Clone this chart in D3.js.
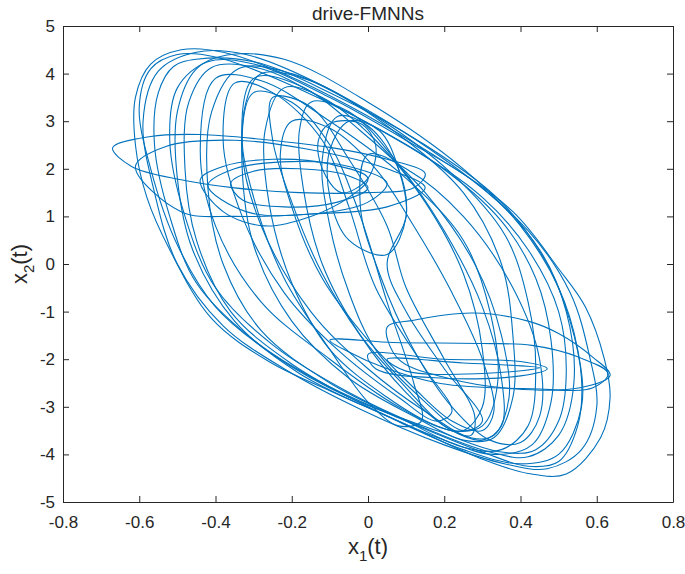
<!DOCTYPE html>
<html>
<head>
<meta charset="utf-8">
<script src="https://cdn.jsdelivr.net/npm/d3@7"></script>
<style>
body { margin: 0; background: #fff; }
text { font-family: "Liberation Sans", Arial, Helvetica, sans-serif; }
</style>
</head>
<body>
<script>
// axis ticks
const xTicks = [-0.8, -0.6, -0.4, -0.2, 0, 0.2, 0.4, 0.6, 0.8];
const yTicks = [-5, -4, -3, -2, -1, 0, 1, 2, 3, 4, 5];

// trajectory loops (x1, x2)
// big diagonal loops
const loopA1 = [[-0.49,4.5],[-0.38,4.45],[-0.18,3.85],[0.17,2.3],[0.38,1.1],[0.5,-0.1],[0.57,-0.9],[0.62,-2.0],[0.635,-2.8],[0.61,-3.65],[0.52,-4.41],[0.42,-4.4],[0.3,-4.1],[0.08,-3.3],[-0.09,-2.7],[-0.26,-2.05],[-0.41,-1.15],[-0.52,0.3],[-0.58,1.4],[-0.61,2.5],[-0.61,3.5],[-0.57,4.2]];
const loopA2 = [[-0.45,4.3],[-0.3,4.25],[-0.1,3.6],[0.15,2.5],[0.35,1.3],[0.47,0.0],[0.53,-1.2],[0.56,-2.4],[0.55,-3.4],[0.5,-4.15],[0.42,-4.25],[0.3,-3.95],[0.1,-3.3],[-0.12,-2.5],[-0.3,-1.6],[-0.45,-0.4],[-0.52,1.0],[-0.56,2.5],[-0.55,3.6],[-0.51,4.15]];
const loopA3 = [[-0.37,4.39],[-0.22,4.3],[0.0,3.4],[0.25,2.0],[0.4,0.8],[0.5,-0.5],[0.55,-1.8],[0.56,-3.0],[0.5,-4.0],[0.4,-4.2],[0.25,-3.9],[0.05,-3.2],[-0.18,-2.3],[-0.35,-1.2],[-0.46,0.3],[-0.5,1.8],[-0.5,3.2],[-0.45,4.1]];
const loopA4 = [[-0.41,4.13],[-0.28,4.1],[-0.08,3.3],[0.18,2.1],[0.35,0.9],[0.44,-0.3],[0.48,-1.6],[0.48,-2.9],[0.43,-3.8],[0.33,-4.0],[0.2,-3.7],[0.0,-3.0],[-0.2,-2.1],[-0.36,-1.0],[-0.45,0.5],[-0.48,2.0],[-0.47,3.4]];
const loopA5 = [[-0.34,4.1],[-0.2,4.0],[0.0,3.2],[0.22,1.9],[0.36,0.6],[0.42,-0.8],[0.44,-2.2],[0.42,-3.4],[0.35,-3.9],[0.25,-3.85],[0.1,-3.3],[-0.1,-2.5],[-0.28,-1.4],[-0.38,0.0],[-0.42,1.6],[-0.41,3.2]];
const loopA6 = [[-0.28,4.0],[-0.15,3.85],[0.05,2.9],[0.25,1.5],[0.35,0.0],[0.38,-1.5],[0.38,-2.8],[0.33,-3.65],[0.25,-3.7],[0.12,-3.2],[-0.05,-2.4],[-0.2,-1.2],[-0.3,0.4],[-0.33,2.0],[-0.32,3.4]];
const loopA7 = [[-0.45,4.45],[-0.32,4.4],[-0.12,3.75],[0.2,2.2],[0.42,0.7],[0.53,-0.6],[0.58,-1.9],[0.6,-3.0],[0.56,-3.9],[0.47,-4.3],[0.36,-4.2],[0.2,-3.8],[-0.02,-3.05],[-0.22,-2.2],[-0.38,-1.3],[-0.5,0.0],[-0.56,1.5],[-0.59,3.0],[-0.55,4.05]];
const loopA8 = [[-0.5,4.4],[-0.4,4.35],[-0.2,3.75],[0.1,2.5],[0.3,1.4],[0.42,0.3],[0.5,-1.0],[0.52,-2.3],[0.5,-3.3],[0.44,-3.9],[0.35,-3.95],[0.18,-3.5],[-0.05,-2.8],[-0.25,-1.9],[-0.4,-0.9],[-0.5,0.4],[-0.57,2.0],[-0.6,3.3],[-0.57,4.1]];
const loopA9 = [[-0.42,4.25],[-0.3,4.2],[-0.1,3.5],[0.1,2.6],[0.3,1.6],[0.45,0.3],[0.52,-1.0],[0.54,-2.5],[0.5,-3.6],[0.42,-4.05],[0.32,-3.95],[0.15,-3.45],[-0.05,-2.7],[-0.25,-1.7],[-0.4,-0.5],[-0.48,1.0],[-0.52,2.6],[-0.5,3.7]];
// central tall loops
const loopB1 = [[-0.22,3.7],[-0.12,3.5],[0.02,2.6],[0.15,1.3],[0.25,-0.2],[0.3,-1.8],[0.3,-3.0],[0.25,-3.5],[0.18,-3.4],[0.05,-2.8],[-0.1,-1.8],[-0.2,-0.4],[-0.26,1.3],[-0.27,2.8]];
const loopB2 = [[-0.15,3.4],[-0.05,3.2],[0.07,2.2],[0.2,0.7],[0.3,-0.9],[0.35,-2.4],[0.35,-3.4],[0.3,-3.7],[0.22,-3.5],[0.1,-2.7],[-0.02,-1.5],[-0.12,0.0],[-0.17,1.6],[-0.18,2.8]];
const loopB3 = [[-0.05,3.0],[0.03,2.8],[0.08,2.0],[0.1,1.0],[0.05,0.2],[-0.05,0.5],[-0.1,1.4],[-0.1,2.4]];
const loopB4 = [[-0.3,3.6],[-0.2,3.4],[-0.1,2.5],[-0.02,1.0],[0.05,-0.8],[0.12,-2.5],[0.14,-3.3],[0.08,-3.4],[0.0,-2.9],[-0.1,-1.8],[-0.22,-0.3],[-0.3,1.4],[-0.33,2.7]];
const loopB5 = [[0.0,2.3],[0.1,2.0],[0.25,1.0],[0.38,-0.5],[0.45,-2.0],[0.45,-3.2],[0.4,-3.75],[0.32,-3.7],[0.22,-3.0],[0.12,-1.8],[0.03,-0.2],[-0.02,1.2]];
const loopB6 = [[-0.3,3.9],[-0.18,3.75],[-0.02,2.8],[0.15,1.5],[0.28,0.0],[0.35,-1.5],[0.37,-2.8],[0.33,-3.6],[0.27,-3.65],[0.15,-3.1],[0.0,-2.2],[-0.15,-1.0],[-0.28,0.8],[-0.33,2.4]];
const loopB7 = [[-0.25,3.5],[-0.15,3.3],[-0.05,2.2],[0.05,0.8],[0.1,-0.5],[0.2,-2.0],[0.28,-3.2],[0.27,-3.6],[0.2,-3.4],[0.1,-2.6],[-0.02,-1.5],[-0.12,-0.2],[-0.2,1.3],[-0.25,2.6]];
const loopB8 = [[-0.08,3.1],[0.0,2.9],[0.08,2.0],[0.1,1.0],[0.05,0.0],[0.1,-1.0],[0.2,-2.2],[0.3,-3.3],[0.25,-3.5],[0.15,-2.9],[0.02,-1.8],[-0.05,-0.6],[-0.1,0.8],[-0.12,2.2]];
const loopB9 = [[-0.35,3.8],[-0.25,3.6],[-0.12,2.6],[-0.05,1.2],[0.02,-0.5],[0.15,-2.2],[0.22,-3.1],[0.18,-3.3],[0.08,-2.8],[-0.08,-1.8],[-0.22,-0.6],[-0.33,1.0],[-0.38,2.6]];
const loopB10 = [[-0.2,3.0],[-0.1,2.85],[0.02,2.0],[0.12,0.8],[0.22,-0.6],[0.3,-2.0],[0.33,-3.1],[0.3,-3.5],[0.22,-3.3],[0.12,-2.6],[0.0,-1.6],[-0.12,-0.3],[-0.2,1.2],[-0.23,2.3]];
const loopB11 = [[-0.1,2.95],[-0.02,2.95],[0.02,2.5],[0.0,1.8],[-0.07,1.5],[-0.12,2.0],[-0.13,2.6]];
const loopB12 = [[-0.4,3.9],[-0.28,3.85],[-0.1,3.0],[0.1,1.8],[0.25,0.5],[0.32,-1.0],[0.34,-2.5],[0.3,-3.4],[0.22,-3.5],[0.08,-3.0],[-0.1,-2.0],[-0.28,-0.8],[-0.4,0.8],[-0.44,2.4]];
// flat loops, upper left
const loopC1 = [[-0.67,2.44],[-0.57,2.68],[-0.44,2.72],[-0.28,2.62],[-0.1,2.45],[0.05,2.2],[0.15,1.9],[0.12,1.6],[0.0,1.5],[-0.18,1.5],[-0.35,1.6],[-0.49,1.77],[-0.62,2.05]];
const loopC2 = [[-0.61,2.05],[-0.53,2.47],[-0.35,2.6],[-0.15,2.4],[0.05,2.0],[0.15,1.6],[0.05,1.2],[-0.15,1.05],[-0.35,1.0],[-0.49,1.1]];
const loopC3 = [[-0.44,1.77],[-0.38,2.05],[-0.25,2.2],[-0.1,2.1],[0.0,1.8],[-0.05,1.4],[-0.15,1.0],[-0.27,0.8],[-0.38,1.1]];
const loopC4 = [[-0.36,1.7],[-0.3,1.95],[-0.18,2.0],[-0.05,1.85],[0.0,1.6],[-0.08,1.3],[-0.22,1.2],[-0.33,1.35]];
const loopC5 = [[-0.42,1.65],[-0.35,2.0],[-0.2,2.15],[-0.05,2.05],[0.05,1.7],[0.0,1.3],[-0.15,1.05],[-0.32,1.1]];
// flat loops, lower right
const loopD1 = [[0.05,-1.33],[0.12,-1.18],[0.275,-1.03],[0.42,-1.2],[0.5,-1.46],[0.59,-1.96],[0.635,-2.34],[0.556,-2.6],[0.38,-2.62],[0.21,-2.4],[0.08,-2.0]];
const loopD2 = [[-0.1,-1.6],[0.066,-1.65],[0.3,-1.67],[0.43,-1.71],[0.55,-1.95],[0.63,-2.3],[0.59,-2.6],[0.43,-2.62],[0.19,-2.51],[0.04,-2.17],[-0.05,-1.85]];
const loopD3 = [[0.0,-1.9],[0.2,-2.0],[0.4,-2.05],[0.47,-2.2],[0.4,-2.35],[0.2,-2.4],[0.02,-2.2]];
const loopD4 = [[0.05,-2.0],[0.25,-2.08],[0.45,-2.18],[0.3,-2.3],[0.1,-2.25]];

const loops = [loopA1, loopA2, loopA3, loopA4, loopA5, loopA6, loopA7, loopA8, loopA9,
  loopB1, loopB2, loopB3, loopB4, loopB5, loopB6, loopB7, loopB8, loopB9, loopB10, loopB11, loopB12,
  loopC1, loopC2, loopC3, loopC4, loopC5,
  loopD1, loopD2, loopD3, loopD4];

const width = 685, height = 574;
const plot = { left: 63, right: 673, top: 26, bottom: 502 };

const x = d3.scaleLinear().domain([-0.8, 0.8]).range([plot.left, plot.right]);
const y = d3.scaleLinear().domain([-5, 5]).range([plot.bottom, plot.top]);

const svg = d3.select(document.body).append("svg")
  .attr("width", width)
  .attr("height", height);

const line = d3.line()
  .x(d => x(d[0]))
  .y(d => y(d[1]))
  .curve(d3.curveCatmullRomClosed.alpha(0.5));

svg.append("g")
  .selectAll("path")
  .data(loops)
  .enter()
  .append("path")
  .attr("d", line)
  .attr("fill", "none")
  .attr("stroke", "#0072BD")
  .attr("stroke-width", 1.1);

// box with inward ticks
const fmt = d => String(d);
const axisB = d3.axisBottom(x).tickValues(xTicks).tickFormat(fmt).tickSizeInner(-6).tickSizeOuter(0).tickPadding(14);
const axisT = d3.axisTop(x).tickValues(xTicks).tickFormat("").tickSizeInner(-6).tickSizeOuter(0);
const axisL = d3.axisLeft(y).tickValues(yTicks).tickFormat(fmt).tickSizeInner(-6).tickSizeOuter(0).tickPadding(8);
const axisR = d3.axisRight(y).tickValues(yTicks).tickFormat("").tickSizeInner(-6).tickSizeOuter(0);

const styleAxis = g => {
  g.select(".domain").attr("stroke", "#262626").attr("stroke-width", 1);
  g.selectAll(".tick line").attr("stroke", "#262626");
  g.selectAll(".tick text").attr("fill", "#262626").style("font-size", "17px")
    .style("font-family", "\"Liberation Sans\", Arial, sans-serif");
};

svg.append("g").attr("transform", `translate(0,${plot.bottom})`).call(axisB).call(styleAxis);
svg.append("g").attr("transform", `translate(0,${plot.top})`).call(axisT).call(styleAxis);
svg.append("g").attr("transform", `translate(${plot.left},0)`).call(axisL).call(styleAxis);
svg.append("g").attr("transform", `translate(${plot.right},0)`).call(axisR).call(styleAxis);

// title and labels
svg.append("text")
  .attr("x", (plot.left + plot.right) / 2)
  .attr("y", 20)
  .attr("text-anchor", "middle")
  .attr("fill", "#262626")
  .style("font-size", "19px")
  .text("drive-FMNNs");

const xl = svg.append("text")
  .attr("x", (plot.left + plot.right) / 2)
  .attr("y", 554)
  .attr("text-anchor", "middle")
  .attr("fill", "#262626")
  .style("font-size", "22px");
xl.append("tspan").text("x");
xl.append("tspan").attr("dy", 7).style("font-size", "15px").text("1");
xl.append("tspan").attr("dy", -7).text("(t)");

const yl = svg.append("text")
  .attr("transform", `translate(27,${(plot.top + plot.bottom) / 2}) rotate(-90)`)
  .attr("text-anchor", "middle")
  .attr("fill", "#262626")
  .style("font-size", "22px");
yl.append("tspan").text("x");
yl.append("tspan").attr("dy", 7).style("font-size", "15px").text("2");
yl.append("tspan").attr("dy", -7).text("(t)");
</script>
</body>
</html>
